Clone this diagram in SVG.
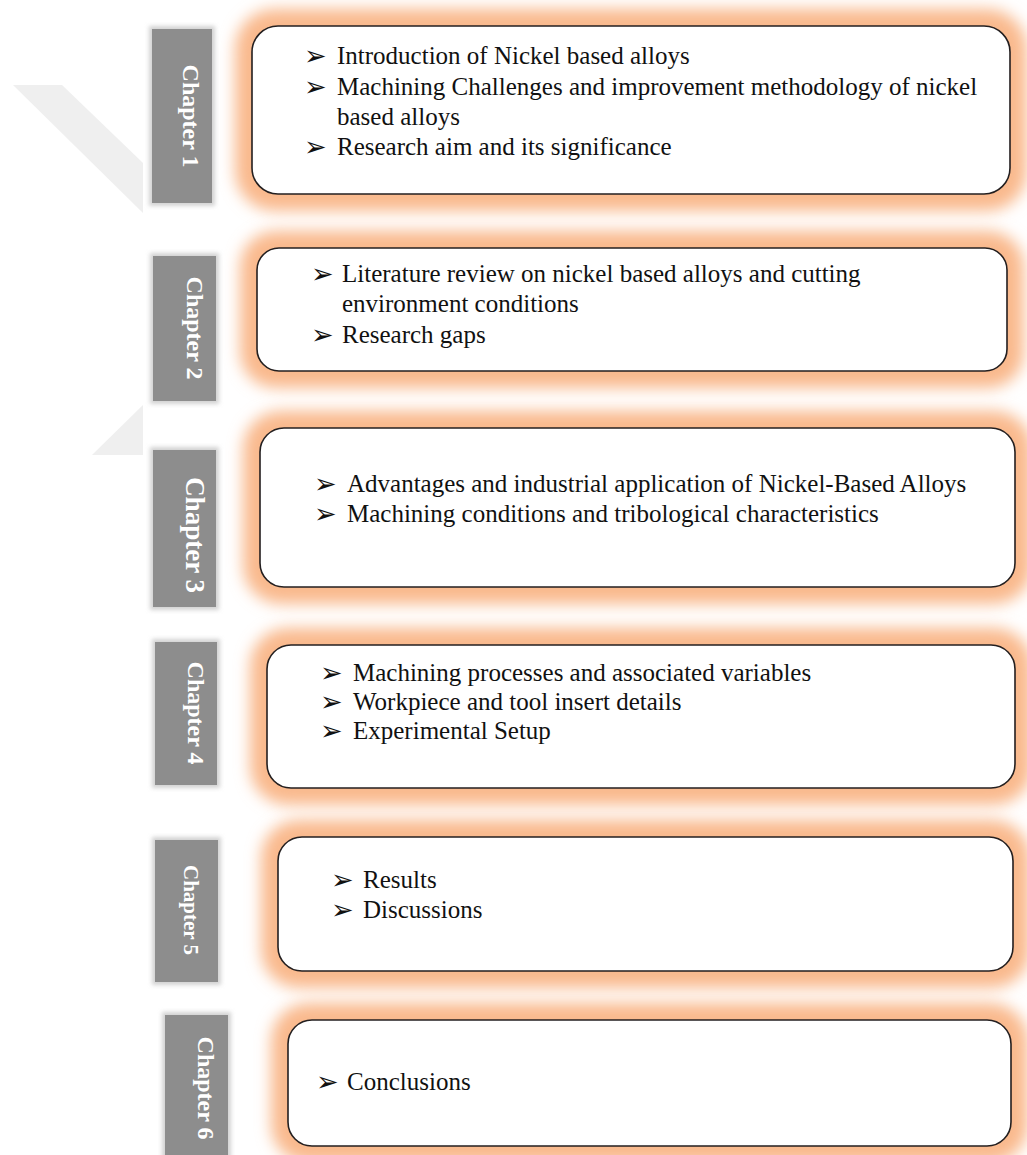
<svg xmlns="http://www.w3.org/2000/svg" width="1027" height="1155" viewBox="0 0 1027 1155">
<style>
.bx{fill:#ffffff;stroke:#231f20;stroke-width:1.6}
.gl{fill:#f9b98d}
.ch{fill:#8d8d8d}
.chs{fill:#d2d2d2}
.cht{font-family:"Liberation Serif","Times New Roman",serif;font-weight:bold;fill:#ffffff;text-anchor:middle}
.t{font-family:"Liberation Serif","Times New Roman",serif;font-size:25px;fill:#111111}
.b{font-family:"DejaVu Sans",sans-serif;font-size:27px;fill:#111111}
.wm{fill:#efefef}
</style>
<defs>
<filter id="glow" x="-10%" y="-40%" width="120%" height="180%"><feGaussianBlur stdDeviation="7.5"/></filter>
<filter id="sh" x="-30%" y="-20%" width="160%" height="140%"><feGaussianBlur stdDeviation="2"/></filter>
</defs>
<rect width="1027" height="1155" fill="#ffffff"/>
<g id="watermark">
<polygon class="wm" points="13,85 62,85 143,163 143,213"/>
<polygon class="wm" points="143,405 92,455 143,455"/>
</g>
<g id="chapter1">
<rect class="chs" x="149" y="26" width="66" height="180" filter="url(#sh)"/>
<rect class="ch" x="152" y="29" width="60" height="174"/>
<text class="cht" font-size="24" transform="translate(183,116) rotate(90)">Chapter 1</text>
</g>
<g id="chapter2">
<rect class="chs" x="150" y="253" width="69" height="151" filter="url(#sh)"/>
<rect class="ch" x="153" y="256" width="63" height="145"/>
<text class="cht" font-size="24" transform="translate(187,328) rotate(90)">Chapter 2</text>
</g>
<g id="chapter3">
<rect class="chs" x="150" y="447" width="69" height="163" filter="url(#sh)"/>
<rect class="ch" x="153" y="450" width="63" height="157"/>
<text class="cht" font-size="27" transform="translate(186,535) rotate(90)">Chapter 3</text>
</g>
<g id="chapter4">
<rect class="chs" x="152" y="639" width="68" height="149" filter="url(#sh)"/>
<rect class="ch" x="155" y="642" width="62" height="143"/>
<text class="cht" font-size="24" transform="translate(188,713) rotate(90)">Chapter 4</text>
</g>
<g id="chapter5">
<rect class="chs" x="152" y="837" width="69" height="148" filter="url(#sh)"/>
<rect class="ch" x="155" y="840" width="63" height="142"/>
<text class="cht" font-size="21" transform="translate(184,910) rotate(90)">Chapter 5</text>
</g>
<g id="chapter6">
<rect class="chs" x="162" y="1012" width="69" height="160" filter="url(#sh)"/>
<rect class="ch" x="165" y="1015" width="63" height="150"/>
<text class="cht" font-size="24" transform="translate(198,1088) rotate(90)">Chapter 6</text>
</g>
<g id="box1">
<rect class="gl" x="235" y="9" width="792" height="202" rx="40" filter="url(#glow)"/>
<rect class="bx" x="252" y="26" width="758" height="168" rx="26"/>
<text class="b" x="304" y="65">➢</text>
<text class="t" x="337" y="64">Introduction of Nickel based alloys</text>
<text class="b" x="304" y="96">➢</text>
<text class="t" x="337" y="95">Machining Challenges and improvement methodology of nickel</text>
<text class="t" x="337" y="125">based alloys</text>
<text class="b" x="304" y="156">➢</text>
<text class="t" x="337" y="155">Research aim and its significance</text>
</g>
<g id="box2">
<rect class="gl" x="240" y="231" width="784" height="157" rx="36" filter="url(#glow)"/>
<rect class="bx" x="257" y="248" width="750" height="123" rx="22"/>
<text class="b" x="311" y="283">➢</text>
<text class="t" x="342" y="282">Literature review on nickel based alloys and cutting</text>
<text class="t" x="342" y="312">environment conditions</text>
<text class="b" x="311" y="344">➢</text>
<text class="t" x="342" y="343">Research gaps</text>
</g>
<g id="box3">
<rect class="gl" x="243" y="411" width="789" height="193" rx="38" filter="url(#glow)"/>
<rect class="bx" x="260" y="428" width="755" height="159" rx="24"/>
<text class="b" x="314" y="493">➢</text>
<text class="t" x="347" y="492">Advantages and industrial application of Nickel-Based Alloys</text>
<text class="b" x="314" y="523">➢</text>
<text class="t" x="347" y="522">Machining conditions and tribological characteristics</text>
</g>
<g id="box4">
<rect class="gl" x="250" y="628" width="782" height="177" rx="38" filter="url(#glow)"/>
<rect class="bx" x="267" y="645" width="748" height="143" rx="24"/>
<text class="b" x="320" y="682">➢</text>
<text class="t" x="353" y="681">Machining processes and associated variables</text>
<text class="b" x="320" y="711">➢</text>
<text class="t" x="353" y="710">Workpiece and tool insert details</text>
<text class="b" x="320" y="740">➢</text>
<text class="t" x="353" y="739">Experimental Setup</text>
</g>
<g id="box5">
<rect class="gl" x="261" y="820" width="769" height="168" rx="38" filter="url(#glow)"/>
<rect class="bx" x="278" y="837" width="735" height="134" rx="24"/>
<text class="b" x="331" y="889">➢</text>
<text class="t" x="363" y="888">Results</text>
<text class="b" x="331" y="919">➢</text>
<text class="t" x="363" y="918">Discussions</text>
</g>
<g id="box6">
<rect class="gl" x="271" y="1003" width="757" height="160" rx="38" filter="url(#glow)"/>
<rect class="bx" x="288" y="1020" width="723" height="126" rx="24"/>
<text class="b" x="316" y="1091">➢</text>
<text class="t" x="347" y="1090">Conclusions</text>
</g>
</svg>
